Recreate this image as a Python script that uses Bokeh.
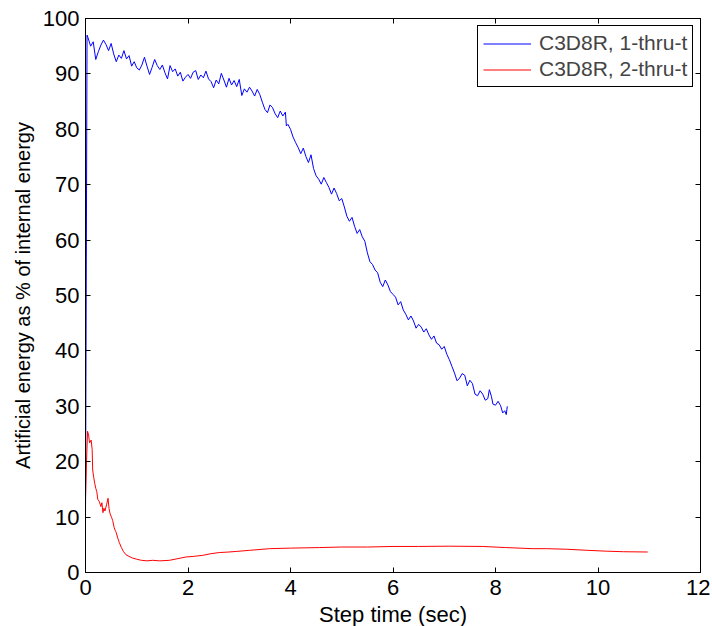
from bokeh.plotting import figure
from bokeh.models import LinearAxis, FixedTicker, Range1d, Legend, LegendItem
from bokeh.embed import file_html
from bokeh.resources import INLINE

blue_x = [0.00, 0.03, 0.05, 0.10, 0.15, 0.20, 0.25, 0.30, 0.35, 0.40, 0.45, 0.50, 0.55, 0.60, 0.65, 0.70,
          0.75, 0.80, 0.85, 0.90, 0.95, 1.00, 1.05, 1.10, 1.15, 1.20, 1.25, 1.30, 1.35, 1.40, 1.45, 1.50,
          1.55, 1.60, 1.65, 1.70, 1.75, 1.80, 1.85, 1.90, 1.95, 2.00, 2.05, 2.10, 2.15, 2.20, 2.25, 2.30,
          2.35, 2.40, 2.45, 2.50, 2.55, 2.60, 2.65, 2.70, 2.75, 2.80, 2.85, 2.90, 2.95, 3.00, 3.05, 3.10,
          3.15, 3.20, 3.25, 3.30, 3.35, 3.40, 3.45, 3.50, 3.55, 3.60, 3.65, 3.70, 3.75, 3.80, 3.85, 3.90,
          3.92, 3.95, 4.00, 4.05, 4.10, 4.15, 4.20, 4.25, 4.30, 4.35, 4.40, 4.45, 4.50, 4.55, 4.60, 4.65,
          4.70, 4.75, 4.80, 4.85, 4.90, 4.95, 5.00, 5.05, 5.10, 5.15, 5.20, 5.25, 5.30, 5.35, 5.40, 5.45,
          5.50, 5.55, 5.60, 5.65, 5.70, 5.75, 5.80, 5.85, 5.90, 5.95, 6.00, 6.05, 6.10, 6.15, 6.20, 6.25,
          6.30, 6.35, 6.40, 6.45, 6.50, 6.55, 6.60, 6.65, 6.70, 6.75, 6.80, 6.85, 6.90, 6.95, 7.00, 7.05,
          7.10, 7.15, 7.20, 7.25, 7.30, 7.35, 7.40, 7.45, 7.50, 7.55, 7.60, 7.65, 7.70, 7.75, 7.80, 7.85,
          7.88, 7.92, 7.95, 8.00, 8.05, 8.10, 8.14, 8.18, 8.21, 8.23]
blue_y = [10.0, 97.0, 96.5, 95.0, 95.8, 92.6, 94.0, 95.2, 96.1, 95.3, 94.2, 95.5, 93.6, 92.2, 93.4, 92.8,
          94.2, 92.7, 93.3, 91.4, 92.2, 91.1, 90.7, 91.6, 93.0, 91.4, 89.9, 91.2, 92.6, 91.5, 90.8, 91.6,
          90.2, 89.1, 91.5, 90.4, 90.9, 89.6, 90.3, 88.7, 89.4, 89.9, 89.2, 90.3, 90.6, 89.0, 89.8, 89.3,
          90.5, 89.1, 88.6, 87.5, 88.9, 88.2, 90.1, 88.9, 87.6, 89.2, 88.0, 88.8, 87.7, 89.0, 86.1, 87.3,
          86.7, 87.6, 86.9, 86.0, 87.2, 86.3, 84.9, 83.6, 83.0, 84.4, 83.9, 82.8, 82.1, 83.3, 82.4, 83.1,
          80.6, 80.9, 80.0, 78.6, 77.6, 76.7, 75.6, 76.6, 75.1, 74.0, 75.4, 72.9, 71.6, 71.0, 70.1, 71.3,
          70.4, 69.5, 68.3, 69.4, 68.4, 67.1, 67.5, 66.0, 64.3, 63.4, 64.1, 62.5, 61.2, 61.9, 60.6, 59.8,
          57.7, 56.1, 55.6, 54.6, 54.1, 52.4, 51.6, 52.8, 51.9, 50.7, 50.2, 49.7, 48.3, 48.9, 47.4, 46.6,
          45.6, 46.3, 45.4, 44.1, 44.8, 44.3, 43.4, 44.0, 42.9, 42.1, 42.7, 41.4, 41.1, 40.3, 40.8, 39.4,
          38.4, 37.2, 36.0, 34.6, 35.1, 35.9, 35.6, 33.7, 34.7, 34.1, 32.2, 31.9, 32.8, 32.2, 31.1, 31.4,
          33.0, 31.8, 30.4, 30.2, 30.9, 30.1, 28.8, 29.2, 28.5, 30.0]

red_x = [0.00, 0.02, 0.04, 0.06, 0.08, 0.11, 0.13, 0.14, 0.16, 0.18, 0.20, 0.22, 0.24, 0.27, 0.30, 0.32,
         0.34, 0.36, 0.38, 0.41, 0.44, 0.46, 0.48, 0.51, 0.53, 0.56, 0.58, 0.60, 0.63, 0.66, 0.70, 0.74,
         0.79, 0.85, 0.92, 1.00, 1.09, 1.20, 1.31, 1.45, 1.64, 1.80, 1.96, 2.10, 2.29, 2.45, 2.61, 2.80,
         2.94, 3.20, 3.59, 4.00, 4.57, 5.00, 5.50, 6.00, 6.50, 7.10, 7.75, 8.20, 8.73, 9.00, 9.38, 9.80,
         10.16, 10.50, 10.97]
red_y = [13.2, 20.0, 25.5, 24.8, 23.4, 23.9, 22.2, 18.5, 17.2, 16.1, 15.2, 14.6, 13.2, 12.8, 11.9, 12.6,
         10.8, 11.6, 11.1, 12.2, 13.4, 11.5, 10.6, 9.9, 9.4, 8.1, 7.6, 7.2, 6.2, 5.4, 4.5, 3.8,
         3.2, 2.9, 2.6, 2.4, 2.2, 2.1, 2.2, 2.1, 2.2, 2.5, 2.8, 2.9, 3.1, 3.4, 3.6, 3.7,
         3.8, 4.0, 4.3, 4.4, 4.5, 4.6, 4.6, 4.7, 4.7, 4.75, 4.7, 4.5, 4.3, 4.3, 4.2, 4.0,
         3.85, 3.75, 3.7]

series_names = ["C3D8R, 1-thru-t", "C3D8R, 2-thru-t"]
x_ticks = [0, 2, 4, 6, 8, 10, 12]
y_ticks = [0, 10, 20, 30, 40, 50, 60, 70, 80, 90, 100]
x_label = "Step time (sec)"
y_label = "Artificial energy as % of internal energy"

FONT = "Liberation Sans"
FS = "22px"

p = figure(frame_width=615, frame_height=554, output_backend="svg", toolbar_location=None,
           x_range=Range1d(0, 12), y_range=Range1d(0, 100),
           min_border_left=85, min_border_right=10, min_border_top=18, min_border_bottom=45,
           x_axis_label=x_label, y_axis_label=y_label)
p.background_fill_color = "white"
p.border_fill_color = "white"
p.outline_line_color = "black"
p.outline_line_width = 1
p.grid.visible = False

l1 = p.line(blue_x, blue_y, line_color="#0000FF", line_width=1)
l2 = p.line(red_x, red_y, line_color="#FF0000", line_width=1)

def style_axis(ax, ticks, labels=True):
    ax.ticker = FixedTicker(ticks=ticks)
    ax.major_tick_in = 5
    ax.major_tick_out = 0
    ax.minor_tick_line_color = None
    ax.axis_line_color = "black"
    ax.major_tick_line_color = "black"
    if labels:
        ax.major_label_text_font = FONT
        ax.major_label_text_font_size = FS
        ax.major_label_text_color = "black"
        ax.axis_label_text_font = FONT
        ax.axis_label_text_font_size = FS
        ax.axis_label_text_font_style = "normal"
        ax.axis_label_text_color = "black"
    else:
        ax.major_label_text_color = None
        ax.major_label_text_font_size = "1px"
        ax.major_label_standoff = 0

style_axis(p.xaxis[0], x_ticks)
style_axis(p.yaxis[0], y_ticks)
p.xaxis[0].major_label_standoff = 7
p.xaxis[0].axis_label_standoff = 4
p.yaxis[0].major_label_standoff = 6
p.yaxis[0].axis_label_standoff = 6
p.yaxis[0].axis_label_text_font_size = "20px"

top_ax = LinearAxis()
style_axis(top_ax, x_ticks, labels=False)
p.add_layout(top_ax, "above")
right_ax = LinearAxis()
style_axis(right_ax, y_ticks, labels=False)
p.add_layout(right_ax, "right")

legend = Legend(items=[LegendItem(label=series_names[0], renderers=[l1]),
                       LegendItem(label=series_names[1], renderers=[l2])],
                location=(392, 485))
legend.border_line_color = "black"
legend.border_line_alpha = 1
legend.border_line_width = 1
legend.background_fill_alpha = 1
legend.label_text_font = FONT
legend.label_text_font_size = "21px"
legend.glyph_width = 48
legend.label_standoff = 8
legend.padding = 5
legend.spacing = 2
legend.label_height = 21
legend.glyph_height = 21
legend.margin = 0
p.add_layout(legend)

open("out.html", "w").write(file_html(p, INLINE))
